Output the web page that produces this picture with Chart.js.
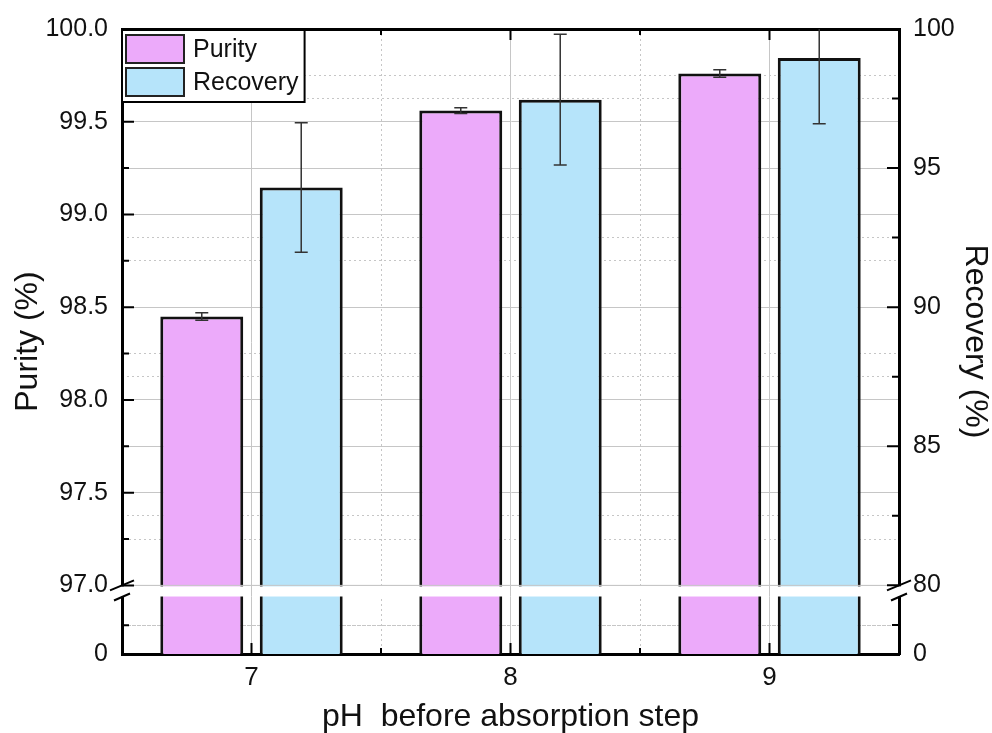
<!DOCTYPE html>
<html>
<head>
<meta charset="utf-8">
<script src="https://cdn.jsdelivr.net/npm/chart.js@4.4.0/dist/chart.umd.min.js"></script>
<style>
  html, body { margin: 0; padding: 0; background: #fff; }
</style>
</head>
<body>
<canvas id="phChart" width="992" height="733"></canvas>
<script>
const phLabels = ['7', '8', '9'];
const purity = [98.45, 99.56, 99.76];
const purityErr = [0.02, 0.015, 0.02];
const recovery = [94.30, 97.46, 98.96];
const recoveryErr = [2.33, 2.35, 2.37];

const purityTicks = [97.0, 97.5, 98.0, 98.5, 99.0, 99.5, 100.0];
const purityMinor = [97.25, 97.75, 98.25, 98.75, 99.25, 99.75];
const recoveryTicks = [80, 85, 90, 95, 100];
const recoveryMinor = [82.5, 87.5, 92.5, 97.5];

// broken axes: [min (shown as 0), stub minor tick, gap bottom, gap top, max]
const purityRange = [96.63, 96.785, 96.94, 97.0, 100];
const recoveryRange = [77.53, 78.57, 79.61, 80, 100];

const GRID = '#c6c6c6';
const FONT = "'Liberation Sans', Arial, sans-serif";
Chart.defaults.font.family = FONT;
Chart.defaults.color = '#111';

function tickList(range, major, minor) {
    return [range[0], range[1], ...minor, ...major]
        .sort((a, b) => a - b)
        .map(v => ({ value: v }));
}

function yAxis(position, range, major, minor, fmt, title) {
    return {
        type: 'linear',
        position: position,
        min: range[0],
        max: range[4],
        afterBuildTicks: (s) => { s.ticks = tickList(range, major, minor); },
        afterFit: (s) => { s.width = position === 'left' ? 122 : 93; },
        ticks: {
            autoSkip: false,
            padding: 14,
            color: '#111',
            font: { size: 25 },
            callback: (v) => v === range[0] ? '0' : (major.includes(v) ? fmt(v) : '')
        },
        grid: {
            drawTicks: false,
            lineWidth: 1,
            color: (c) => {
                if (!c.tick) return 'transparent';
                const v = c.tick.value;
                return (v === range[0] || v === range[4]) ? 'transparent' : GRID;
            }
        },
        border: {
            color: '#000',
            width: 3,
            dash: (c) => (c.tick && !major.includes(c.tick.value)) ? [2, 3] : []
        },
        title: {
            display: true,
            text: title,
            color: '#111',
            font: { size: 32, lineHeight: 1.1 },
            padding: { top: position === 'left' ? 11 : 0, bottom: 0 }
        }
    };
}

// inward ticks, error bars, axis break and framed legend
const decorPlugin = {
    id: 'decor',
    afterDatasetsDraw(chart) {
        const ctx = chart.ctx;
        const area = chart.chartArea;
        const x = chart.scales.x;
        const yL = chart.scales.y;
        const yR = chart.scales.y1;

        // error bars
        ctx.save();
        ctx.beginPath();
        ctx.rect(area.left, area.top, area.right - area.left, area.bottom - area.top);
        ctx.clip();
        ctx.strokeStyle = '#333';
        ctx.lineWidth = 1.5;
        [[purity, purityErr, yL], [recovery, recoveryErr, yR]].forEach((set, di) => {
            const meta = chart.getDatasetMeta(di);
            set[0].forEach((v, i) => {
                const bx = meta.data[i].x;
                const hi = set[2].getPixelForValue(v + set[1][i]);
                const lo = set[2].getPixelForValue(v - set[1][i]);
                ctx.beginPath();
                ctx.moveTo(bx, hi); ctx.lineTo(bx, lo);
                ctx.moveTo(bx - 6.5, hi); ctx.lineTo(bx + 6.5, hi);
                ctx.moveTo(bx - 6.5, lo); ctx.lineTo(bx + 6.5, lo);
                ctx.stroke();
            });
        });
        ctx.restore();

        // axis break band
        const gTop = yL.getPixelForValue(purityRange[3]);
        const gBot = yL.getPixelForValue(purityRange[2]);
        ctx.save();
        ctx.fillStyle = '#fff';
        ctx.fillRect(area.left - 3, gTop + 1, area.right - area.left + 6, gBot - gTop - 1);
        ctx.strokeStyle = GRID;
        ctx.lineWidth = 1;
        ctx.beginPath();
        ctx.moveTo(area.left, gTop); ctx.lineTo(area.right, gTop);
        x.ticks.forEach((t, i) => {
            const px = x.getPixelForTick(i);
            ctx.moveTo(px, gTop); ctx.lineTo(px, gBot);
        });
        ctx.stroke();
        ctx.strokeStyle = '#000';
        ctx.lineWidth = 2;
        ctx.beginPath();
        [area.left, area.right].forEach((ax) => {
            ctx.moveTo(ax - 12, gTop + 5); ctx.lineTo(ax + 12, gTop - 5);
            ctx.moveTo(ax - 8, gBot + 4); ctx.lineTo(ax + 8, gBot - 3);
        });
        ctx.stroke();
        ctx.restore();

        // inward ticks
        ctx.save();
        ctx.strokeStyle = '#000';
        ctx.lineWidth = 2;
        ctx.beginPath();
        [[yL, purityTicks, area.left, 1], [yR, recoveryTicks, area.right, -1]].forEach((a) => {
            a[0].ticks.forEach((t) => {
                const py = a[0].getPixelForValue(t.value);
                if (py > gTop && py < gBot) return;
                const len = a[1].includes(t.value) ? 12 : 7;
                ctx.moveTo(a[2], py); ctx.lineTo(a[2] + a[3] * len, py);
            });
        });
        x.ticks.forEach((t, i) => {
            const px = x.getPixelForTick(i);
            ctx.moveTo(px, area.bottom); ctx.lineTo(px, area.bottom - 11);
            ctx.moveTo(px, area.top); ctx.lineTo(px, area.top + 11);
            if (i < x.ticks.length - 1) {
                const mx = (px + x.getPixelForTick(i + 1)) / 2;
                ctx.moveTo(mx, area.bottom); ctx.lineTo(mx, area.bottom - 6);
                ctx.moveTo(mx, area.top); ctx.lineTo(mx, area.top + 6);
            }
        });
        ctx.stroke();
        ctx.restore();
    },
    afterDraw(chart) {
        const ctx = chart.ctx;
        const area = chart.chartArea;
        const sets = chart.data.datasets;
        ctx.save();
        ctx.font = '25px ' + FONT;
        const textW = Math.max(...sets.map(d => ctx.measureText(d.label).width));
        const left = area.left, top = area.top + 1;
        const w = 4 + 58 + 9 + textW + 6;
        const h = 5 + sets.length * 33 + 1;
        ctx.fillStyle = '#fff';
        ctx.fillRect(left, top, w, h);
        ctx.strokeStyle = '#000';
        ctx.lineWidth = 2;
        ctx.strokeRect(left, top, w, h);
        sets.forEach((d, i) => {
            const sy = top + 5 + i * 33;
            ctx.fillStyle = d.backgroundColor;
            ctx.fillRect(left + 4, sy, 58, 28);
            ctx.strokeStyle = '#222';
            ctx.lineWidth = 2;
            ctx.strokeRect(left + 4, sy, 58, 28);
            ctx.fillStyle = '#111';
            ctx.textBaseline = 'middle';
            ctx.fillText(d.label, left + 4 + 58 + 9, sy + 15);
        });
        ctx.restore();
    }
};

new Chart(document.getElementById('phChart').getContext('2d'), {
    type: 'bar',
    data: {
        labels: phLabels,
        datasets: [{
            label: 'Purity',
            data: purity,
            yAxisID: 'y',
            backgroundColor: 'rgb(236, 170, 250)',
            borderColor: '#111',
            borderWidth: 3
        }, {
            label: 'Recovery',
            data: recovery,
            yAxisID: 'y1',
            backgroundColor: 'rgb(182, 228, 250)',
            borderColor: '#111',
            borderWidth: 3
        }]
    },
    options: {
        responsive: false,
        animation: false,
        devicePixelRatio: 1,
        categoryPercentage: 0.768,
        barPercentage: 0.834,
        layout: { padding: { top: 27, left: 0, right: 0, bottom: 0 } },
        plugins: {
            legend: { display: false },
            tooltip: { enabled: false }
        },
        scales: {
            x: {
                type: 'category',
                position: 'bottom',
                offset: true,
                afterFit: (s) => { s.height = 79; },
                ticks: { padding: 8, color: '#111', font: { size: 26 } },
                grid: {
                    offset: true,
                    drawTicks: false,
                    lineWidth: 1,
                    color: (c) => (c.tick && c.index > 0) ? GRID : 'transparent'
                },
                border: {
                    color: '#000',
                    width: 3,
                    dash: (c) => c.tick ? [2, 3] : []
                },
                title: {
                    display: true,
                    text: 'pH  before absorption step',
                    color: '#111',
                    font: { size: 32, lineHeight: 1.0 },
                    padding: { top: 0, bottom: 0 }
                }
            },
            xTop: {
                type: 'category',
                position: 'top',
                offset: true,
                afterFit: (s) => { s.height = 0; },
                ticks: { display: false },
                grid: { offset: false, drawTicks: false, lineWidth: 1, color: GRID },
                border: { color: '#000', width: 3 }
            },
            y: yAxis('left', purityRange, purityTicks, purityMinor, (v) => v.toFixed(1), 'Purity (%)'),
            y1: yAxis('right', recoveryRange, recoveryTicks, recoveryMinor, (v) => String(v), 'Recovery (%)')
        }
    },
    plugins: [decorPlugin]
});
</script>
</body>
</html>
